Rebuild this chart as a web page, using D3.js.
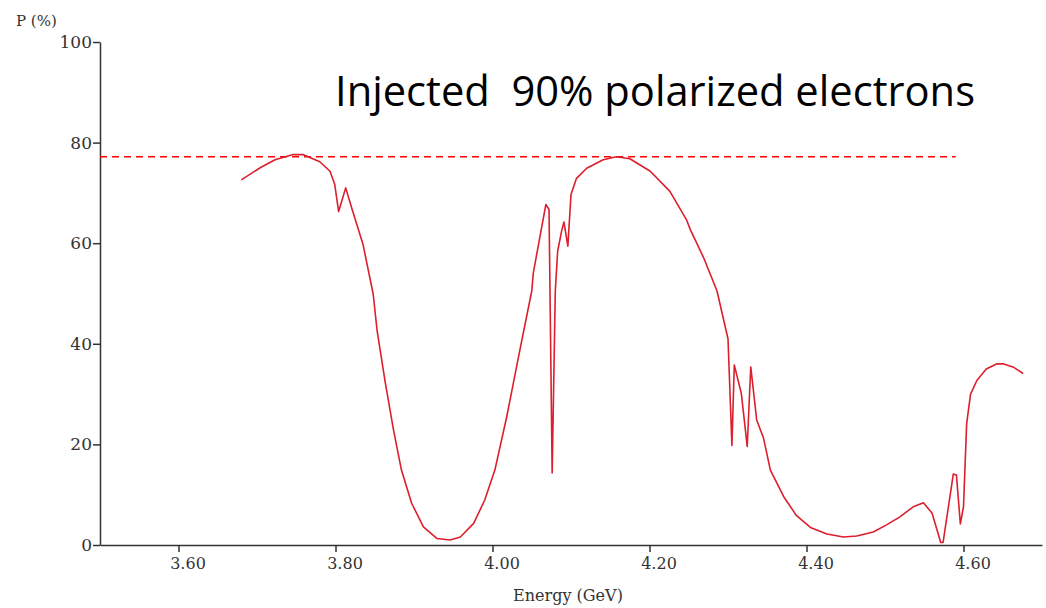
<!DOCTYPE html>
<html>
<head>
<meta charset="utf-8">
<script src="https://cdn.jsdelivr.net/npm/d3@7"></script>
<style>
  body { margin: 0; background: #fff; }
  .tick text { font-family: "DejaVu Serif", serif; fill: #333; }
</style>
</head>
<body>
<div id="chart-area"></div>
<script>

// energy (GeV) and polarization (%)
var energy = [3.680, 3.704, 3.723, 3.745, 3.759, 3.780, 3.793, 3.799, 3.804, 3.813,
  3.822, 3.835, 3.848, 3.853, 3.863, 3.874, 3.884, 3.897, 3.912, 3.929,
  3.946, 3.959, 3.976, 3.990, 4.003, 4.018, 4.033, 4.050, 4.052, 4.068,
  4.072, 4.076, 4.080, 4.083, 4.088, 4.091, 4.096, 4.100, 4.107, 4.120,
  4.141, 4.158, 4.175, 4.201, 4.226, 4.247, 4.252, 4.269, 4.286, 4.300,
  4.305, 4.308, 4.317, 4.3245, 4.329, 4.3366, 4.345, 4.354, 4.371, 4.387,
  4.405, 4.426, 4.447, 4.464, 4.485, 4.502, 4.519, 4.536, 4.549, 4.560,
  4.571, 4.574, 4.587, 4.591, 4.596, 4.600, 4.604, 4.609, 4.617, 4.629,
  4.642, 4.651, 4.663, 4.676];
var polarization = [72.6, 75.0, 76.6, 77.6, 77.6, 76.2, 74.3, 71.7, 66.3, 71.0,
  66.3, 59.8, 49.9, 42.6, 32.7, 22.8, 14.9, 8.3, 3.6, 1.3,
  1.0, 1.6, 4.3, 8.9, 14.9, 25.4, 37.3, 50.5, 54.1, 67.7,
  66.7, 14.3, 50.5, 58.4, 62.4, 64.2, 59.4, 69.7, 72.9, 74.9,
  76.6, 77.2, 76.8, 74.3, 70.3, 64.7, 62.7, 57.1, 50.5, 41.0,
  19.8, 35.8, 30.1, 19.6, 35.4, 24.8, 21.4, 14.9, 9.6, 5.9,
  3.5, 2.2, 1.6, 1.8, 2.6, 4.0, 5.6, 7.6, 8.4, 6.3,
  0.5, 0.5, 14.1, 13.9, 4.2, 7.6, 24.1, 30.0, 32.7, 35.0,
  36.0, 36.0, 35.4, 34.1];

var xTicks = [3.6, 3.8, 4.0, 4.2, 4.4, 4.6];
var yTicks = [0, 20, 40, 60, 80, 100];
var injected = 77.2;   // dashed reference level
var dashEnd = 4.59;

var margin = {left : 100, right : 4, top : 42, bottom : 63};
var width = 1046 - margin.left - margin.right;
var height = 608 - margin.top - margin.bottom;

var svg = d3.select("#chart-area")
  .append("svg")
  .attr("width", 1046)
  .attr("height", 608);

var g = svg.append("g")
  .attr("transform", "translate(" + margin.left + ", " + margin.top + ")");

var x = d3.scaleLinear().domain([3.5, 4.7]).range([0, width]);
var y = d3.scaleLinear().domain([0, 100]).range([height, 0]);

var xAxisCall = d3.axisBottom(x)
  .tickValues(xTicks)
  .tickFormat(d3.format(".2f"))
  .tickSize(7)
  .tickSizeOuter(0)
  .tickPadding(6);

var xAxisGroup = g.append("g")
  .attr("class", "x axis")
  .attr("transform", "translate(0," + height + ")")
  .call(xAxisCall);

xAxisGroup.selectAll("text")
  .attr("dx", 9)
  .attr("font-size", "16px");

var yAxisCall = d3.axisLeft(y)
  .tickValues(yTicks)
  .tickSize(7)
  .tickSizeOuter(0)
  .tickPadding(1);

var yAxisGroup = g.append("g")
  .attr("class", "y axis")
  .call(yAxisCall);

yAxisGroup.selectAll("text")
  .attr("font-size", "17px");

g.selectAll(".axis path, .axis line")
  .attr("stroke", "#333")
  .attr("stroke-width", 1.5);

g.append("text")
  .attr("x", 568 - margin.left)
  .attr("y", 601 - margin.top)
  .attr("text-anchor", "middle")
  .attr("font-family", "DejaVu Serif, serif")
  .attr("font-size", "16px")
  .attr("fill", "#333")
  .text("Energy (GeV)");

svg.append("text")
  .attr("x", 16)
  .attr("y", 26)
  .attr("font-family", "DejaVu Serif, serif")
  .attr("font-size", "15px")
  .attr("fill", "#333")
  .text("P (%)");

// dashed line for the injected polarization level
g.append("line")
  .attr("x1", 0)
  .attr("x2", x(dashEnd))
  .attr("y1", y(injected))
  .attr("y2", y(injected))
  .attr("stroke", "#ff0000")
  .attr("stroke-width", 1.6)
  .attr("stroke-dasharray", "7,5");

svg.append("text")
  .attr("x", 335)
  .attr("y", 106)
  .attr("font-family", "Open Sans, sans-serif")
  .attr("font-size", "42px")
  .attr("fill", "#000")
  .attr("textLength", 640)
  .attr("lengthAdjust", "spacingAndGlyphs")
  .style("white-space", "pre")
  .text("Injected  90% polarized electrons");

var data = energy.map((e, i) => {return {e : e, p : polarization[i]}});

var line = d3.line()
  .x(d => {return x(d.e)})
  .y(d => {return y(d.p)});

g.append("path")
  .datum(data)
  .attr("d", line)
  .attr("fill", "none")
  .attr("stroke", "#dc1e2d")
  .attr("stroke-width", 1.6)
  .attr("stroke-linejoin", "round");

</script>
</body>
</html>
